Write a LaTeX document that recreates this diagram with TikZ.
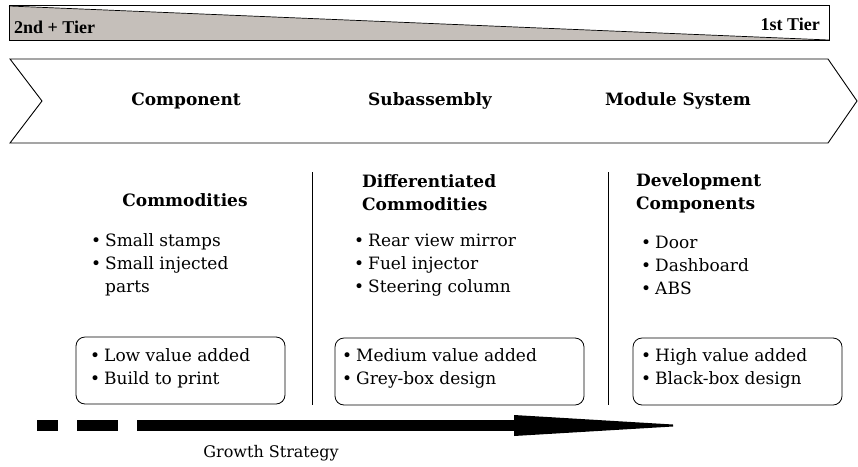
\documentclass[tikz,border=0pt]{standalone}
\usepackage{fontspec}
\setmainfont{DejaVu Serif}
\newfontfamily\tierfont{Liberation Serif}
\definecolor{tiergray}{RGB}{197,191,186}
\newcommand{\bul}{\textbullet\hspace{4pt}}
\newcommand{\nobul}{\phantom{\textbullet}\hspace{4pt}}
\begin{document}
\begin{tikzpicture}[x=1pt,y=-1pt,
  txt/.style={font=\fontsize{17}{23}\selectfont, inner sep=0pt},
  hdr/.style={font=\fontsize{17}{23}\selectfont\bfseries, inner sep=0pt},
  tier/.style={font=\tierfont\fontsize{18}{22}\selectfont\bfseries, inner sep=0pt},
  blist/.style={txt, anchor=west, align=left},
  vbox/.style={draw, rounded corners=9pt, line width=0.8pt},
  bar/.style={fill=black, draw=none}]
\useasboundingbox (0,0) rectangle (858,466);
% top tier bar
\fill[tiergray] (9,6) -- (829,40) -- (9,40) -- cycle;
\draw[line width=0.9pt] (9,5) rectangle (829,40);
\draw[line width=0.7pt] (9,6) -- (829,40);
\node[tier, anchor=base west] (t2) at (14,33) {2nd + Tier};
\node[tier, anchor=base east] (t1) at (820,30) {1st Tier};
% chevron
\draw[line width=0.9pt] (10,59) -- (828,59) -- (857,101) -- (828,143) -- (10,143) -- (42,101) -- cycle;
\node[hdr] (c1) at (186,101) {Component};
\node[hdr] (c2) at (430,101) {Subassembly};
\node[hdr] (c3) at (678,101) {Module System};
% separators
\coordinate (s1t) at (312,172); \coordinate (s1b) at (312,405);
\coordinate (s2t) at (608,172); \coordinate (s2b) at (608,405);
\draw[line width=0.8pt] (s1t) -- (s1b);
\draw[line width=0.8pt] (s2t) -- (s2b);
% headers
\node[hdr] (h1) at (185,200) {Commodities};
\node[hdr, anchor=west, align=left] (h2) at (362,193) {Differentiated\\Commodities};
\node[hdr, anchor=west, align=left] (h3) at (636,193) {Development\\Components};
% bullet lists
\node[blist] (l1) at (91,265) {\bul Small stamps\\\bul Small injected\\\nobul parts};
\node[blist] (l2) at (354,265) {\bul Rear view mirror\\\bul Fuel injector\\\bul Steering column};
\node[blist] (l3) at (641,265) {\bul Door\\\bul Dashboard\\\bul ABS};
% value boxes
\draw[vbox] (76,337) rectangle (285,404);
\draw[vbox] (335,338) rectangle (584,405);
\draw[vbox] (633,338) rectangle (842,405);
\node[blist] (b1) at (90,368) {\bul Low value added\\\bul Build to print};
\node[blist] (b2) at (342,368) {\bul Medium value added\\\bul Grey-box design};
\node[blist] (b3) at (641,368) {\bul High value added\\\bul Black-box design};
% growth arrow
\fill[bar] (37,420) rectangle (58,431);
\fill[bar] (77,420) rectangle (118,431);
\fill[bar] (137,420) rectangle (514,431);
\fill[bar] (514,415) -- (673,424.5) -- (673,426.5) -- (514,436) -- cycle;
\node[txt, font=\fontsize{16}{20}\selectfont] (g) at (271,453) {Growth Strategy};
\end{tikzpicture}
\end{document}
